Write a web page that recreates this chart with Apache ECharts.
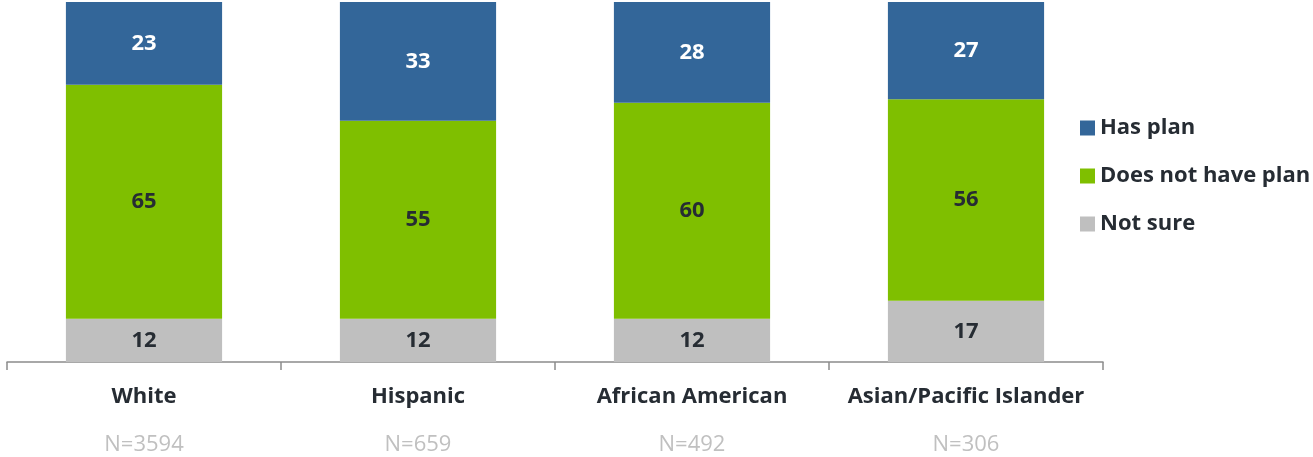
<!DOCTYPE html>
<html lang="en">
<head>
<meta charset="UTF-8">
<title>Plan by race</title>
<style>
    * { margin: 0; padding: 0; }
    #chart { width: 1313px; height: 457px; background: #fff; }
</style>
<script src="https://cdn.jsdelivr.net/npm/echarts@6/dist/echarts.min.js"></script>
</head>
<body>
<div id="chart"></div>
<script>
var categories = ['White', 'Hispanic', 'African American', 'Asian/Pacific Islander'];
var sampleSizes = ['N=3594', 'N=659', 'N=492', 'N=306'];
var notSure = [12, 12, 12, 17];
var noPlan = [65, 55, 60, 56];
var hasPlan = [23, 33, 28, 27];

var FONT = '"Open Sans", "DejaVu Sans", sans-serif';
var DARK = '#262c33';

var chart = echarts.init(document.getElementById('chart'));

function seg(name, values, color, labelColor) {
    return {
        name: name,
        type: 'bar',
        stack: 'all',
        barWidth: '57%',
        data: values,
        itemStyle: { color: color },
        label: {
            show: true,
            position: 'inside',
            color: labelColor,
            fontFamily: FONT,
            fontWeight: 'bold',
            fontSize: 22
        }
    };
}

var option = {
    animation: false,
    grid: { left: 7, right: 210, top: 2, bottom: 95 },
    legend: {
        orient: 'vertical',
        left: 1075,
        top: 112,
        itemWidth: 15,
        itemHeight: 15,
        itemGap: 26,
        icon: 'rect',
        data: ['Has plan', 'Does not have plan', 'Not sure'],
        textStyle: { fontFamily: FONT, fontWeight: 'bold', fontSize: 22, color: DARK }
    },
    xAxis: {
        type: 'category',
        data: categories,
        axisLine: { lineStyle: { color: '#8c8c8c', width: 1.5 } },
        axisTick: { show: true, length: 8, lineStyle: { color: '#8c8c8c', width: 1.5 } },
        axisLabel: {
            margin: 20,
            formatter: function (v, i) {
                return '{a|' + v + '}\n{b|' + sampleSizes[i] + '}';
            },
            rich: {
                a: { fontFamily: FONT, fontWeight: 'bold', fontSize: 22, color: DARK, lineHeight: 30 },
                b: { fontFamily: FONT, fontSize: 22, color: '#c0c0c0', lineHeight: 66 }
            }
        }
    },
    yAxis: {
        type: 'value',
        min: 0,
        max: 100,
        show: false
    },
    series: [
        seg('Not sure', notSure, '#bfbfbf', DARK),
        seg('Does not have plan', noPlan, '#7fbf00', DARK),
        seg('Has plan', hasPlan, '#336699', '#ffffff')
    ]
};
chart.setOption(option);
</script>
</body>
</html>
